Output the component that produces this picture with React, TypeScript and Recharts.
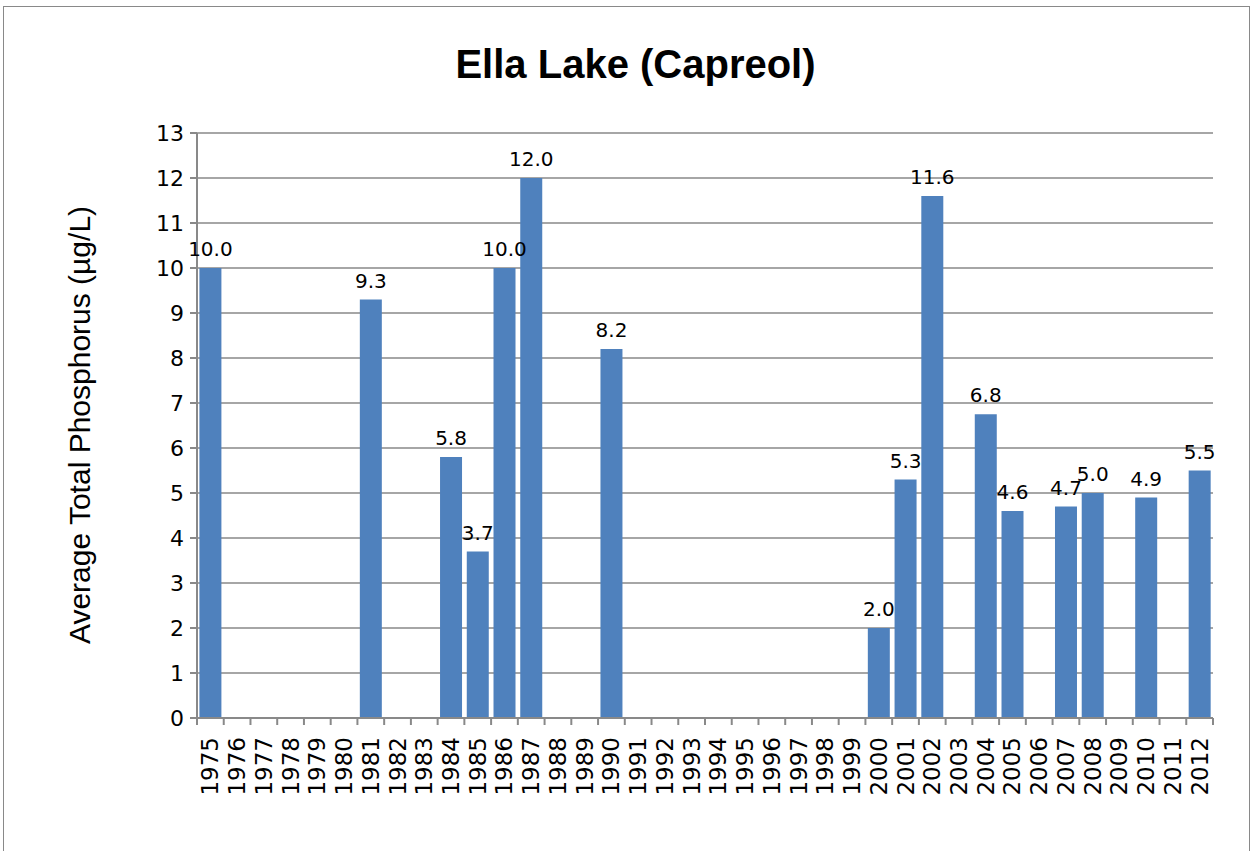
import { BarChart, Bar, XAxis, YAxis, CartesianGrid, LabelList } from "recharts";

const years = [
  "1975", "1976", "1977", "1978", "1979", "1980", "1981", "1982", "1983", "1984",
  "1985", "1986", "1987", "1988", "1989", "1990", "1991", "1992", "1993", "1994",
  "1995", "1996", "1997", "1998", "1999", "2000", "2001", "2002", "2003", "2004",
  "2005", "2006", "2007", "2008", "2009", "2010", "2011", "2012",
];

// null = no sampling that year
const phosphorus: (number | null)[] = [
  10.0, null, null, null, null, null, 9.3, null, null, 5.8,
  3.7, 10.0, 12.0, null, null, 8.2, null, null, null, null,
  null, null, null, null, null, 2.0, 5.3, 11.6, null, 6.75,
  4.6, null, 4.7, 5.0, null, 4.9, null, 5.5,
];

const yTicks = [0, 1, 2, 3, 4, 5, 6, 7, 8, 9, 10, 11, 12, 13];

const data = years.map((year, i) => ({ year, value: phosphorus[i] }));

const W = 1255;
const H = 851;
const margin = { top: 133, right: 42, bottom: 43, left: 137 };
const yAxisWidth = 60;
const plotWidth = W - margin.left - yAxisWidth - margin.right;
const band = plotWidth / years.length;
const axisGray = "#898989";

function YearTick(props: any) {
  const { x, y, payload, index } = props;
  const last = index === years.length - 1;
  return (
    <g>
      <line x1={x - band / 2} x2={x - band / 2} y1={y} y2={y + 7} stroke={axisGray} strokeWidth={2} />
      {last && <line x1={x + band / 2} x2={x + band / 2} y1={y} y2={y + 7} stroke={axisGray} strokeWidth={2} />}
      <text
        x={x}
        y={y + 19}
        transform={`rotate(-90 ${x} ${y + 19})`}
        textAnchor="end"
        dominantBaseline="central"
        fontFamily="DejaVu Sans"
        fontSize={23}
        fill="#000"
      >
        {payload.value}
      </text>
    </g>
  );
}

export default function App() {
  return (
    <div style={{ position: "absolute", left: 0, top: 0, width: W, height: H, overflow: "hidden", background: "#fff" }}>
      <div
        style={{
          position: "absolute",
          left: 3,
          top: 6,
          width: 1245,
          height: 900,
          border: `1px solid ${axisGray}`,
        }}
      />
      <div
        style={{
          position: "absolute",
          left: 8,
          width: W,
          top: 42,
          textAlign: "center",
          fontFamily: "Liberation Sans",
          fontWeight: "bold",
          fontSize: 40,
        }}
      >
        Ella Lake (Capreol)
      </div>
      <div
        style={{
          position: "absolute",
          left: 80,
          top: 425,
          transform: "translate(-50%, -50%) rotate(-90deg)",
          whiteSpace: "nowrap",
          fontFamily: "Liberation Sans",
          fontSize: 30,
        }}
      >
        Average Total Phosphorus (µg/L)
      </div>
      <div style={{ position: "absolute", left: 0, top: 0 }}>
        <BarChart width={W} height={H} data={data} margin={margin} barCategoryGap="9%">
          <CartesianGrid vertical={false} stroke={axisGray} strokeWidth={1.5} />
          <XAxis
            dataKey="year"
            interval={0}
            height={90}
            tickSize={0}
            tickMargin={0}
            tick={<YearTick />}
            axisLine={{ stroke: axisGray, strokeWidth: 2 }}
            tickLine={false}
          />
          <YAxis
            width={yAxisWidth}
            domain={[0, 13]}
            ticks={yTicks}
            interval={0}
            tickSize={7}
            tickMargin={6}
            tick={{ fontFamily: "DejaVu Sans", fontSize: 22, fill: "#000" }}
            axisLine={{ stroke: axisGray, strokeWidth: 2 }}
            tickLine={{ stroke: axisGray, strokeWidth: 2 }}
          />
          <Bar dataKey="value" fill="#4f81bd" isAnimationActive={false}>
            <LabelList
              dataKey="value"
              position="top"
              offset={12}
              formatter={(v: any) => (v == null ? "" : Number(v).toFixed(1))}
              style={{ fontFamily: "DejaVu Sans", fontSize: 20, fill: "#000" }}
            />
          </Bar>
        </BarChart>
      </div>
    </div>
  );
}
